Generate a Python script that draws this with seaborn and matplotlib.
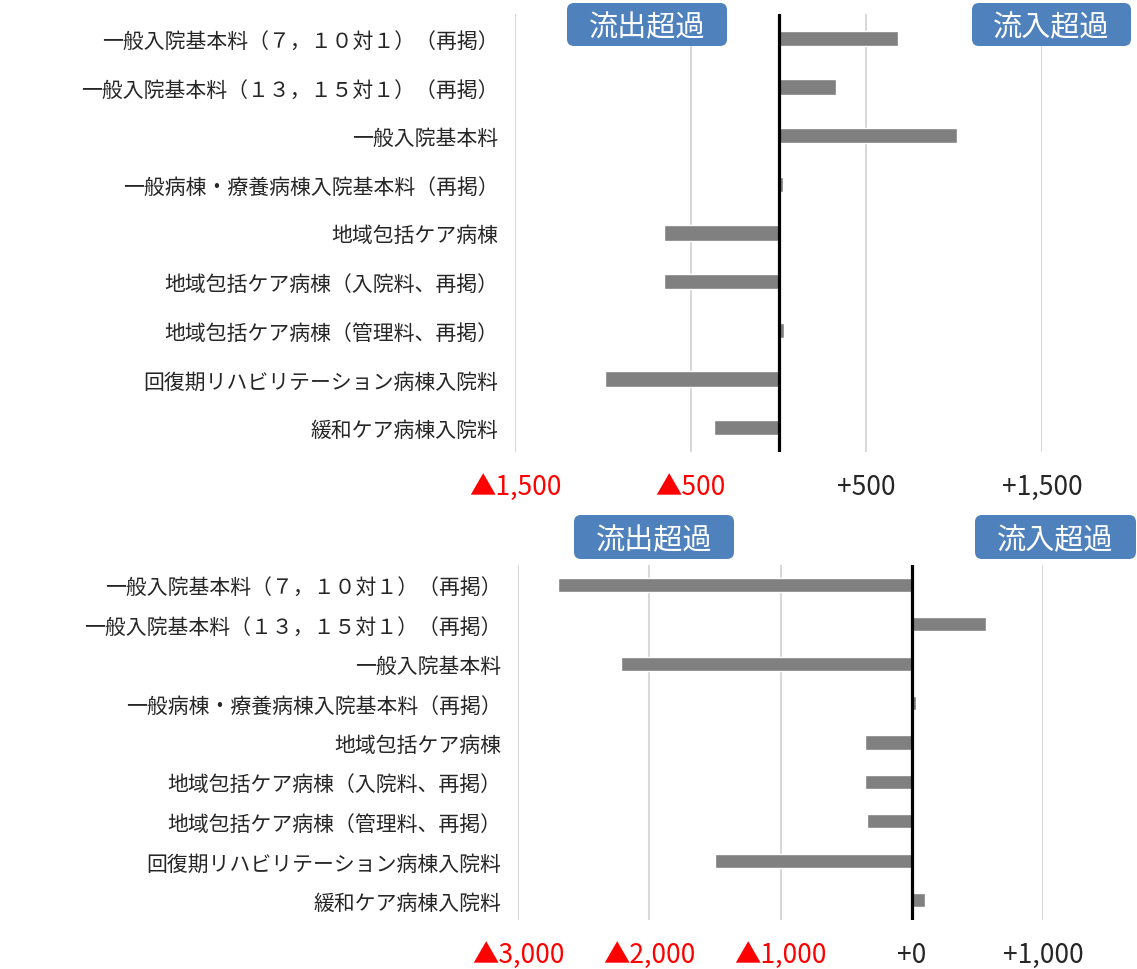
import matplotlib
matplotlib.use('Agg')
import matplotlib.pyplot as plt
from matplotlib.patches import FancyBboxPatch
import seaborn as sns
import pandas as pd

sns.set_style('white')
plt.rcParams['font.family'] = ['Noto Sans CJK JP', 'DejaVu Sans']

categories = ['一般入院基本料（７，１０対１）（再掲）',
              '一般入院基本料（１３，１５対１）（再掲）',
              '一般入院基本料',
              '一般病棟・療養病棟入院基本料（再掲）',
              '地域包括ケア病棟',
              '地域包括ケア病棟（入院料、再掲）',
              '地域包括ケア病棟（管理料、再掲）',
              '回復期リハビリテーション病棟入院料',
              '緩和ケア病棟入院料']

top_values = [682, 330, 1017, 25, -653, -653, 30, -989, -370]
bottom_values = [-2695, 565, -2214, 30, -355, -355, -344, -1496, 99]

top_ticks = [-1500, -500, 500, 1500]
top_ticklabels = ['▲1,500', '▲500', '+500', '+1,500']
bottom_ticks = [-3000, -2000, -1000, 0, 1000]
bottom_ticklabels = ['▲3,000', '▲2,000', '▲1,000', '+0', '+1,000']

W, H = 1137, 970
fig = plt.figure(figsize=(W / 100, H / 100), dpi=100)

def px_axes(x0, y0, x1, y1):
    return fig.add_axes([x0 / W, 1 - y1 / H, (x1 - x0) / W, (y1 - y0) / H])

ax1 = px_axes(515, 15, 1042, 453)
ax2 = px_axes(518, 566, 1043, 921)


def draw(ax, values, ticks, ticklabels, xlim, bar_w, pad):
    df = pd.DataFrame({'cat': categories, 'val': values})
    sns.barplot(data=df, x='val', y='cat', orient='h', color='#808080',
                saturation=1, width=bar_w, ax=ax)
    ax.set_xlim(*xlim)
    ax.set_xticks(ticks)
    ax.set_xticklabels(ticklabels, fontsize=19)
    for t, v in zip(ax.get_xticklabels(), ticks):
        t.set_color('#ff0000' if v < 0 else '#262626')
    ax.tick_params(axis='x', length=0, pad=pad)
    ax.tick_params(axis='y', length=0, pad=12, labelsize=15, labelcolor='#262626')
    ax.set_xlabel('')
    ax.set_ylabel('')
    ax.grid(axis='x', color='#d9d9d9', linewidth=1.5)
    ax.set_axisbelow(True)
    for s in ax.spines.values():
        s.set_visible(False)
    ax.axvline(0, color='black', linewidth=2.3, zorder=5)


draw(ax1, top_values, top_ticks, top_ticklabels, (-1500, 1500), 0.31, 15)
draw(ax2, bottom_values, bottom_ticks, bottom_ticklabels, (-3000, 1000), 0.36, 15)


def label(x0, y0, x1, y1, s):
    # box given in pixels from the top-left corner
    box = FancyBboxPatch((x0 / 100, (H - y1) / 100), (x1 - x0) / 100, (y1 - y0) / 100,
                         boxstyle='round,pad=0,rounding_size=0.07',
                         facecolor='#4f81bd', edgecolor='none',
                         transform=fig.dpi_scale_trans)
    fig.patches.append(box)
    fig.text((x0 + x1) / 2 / W, 1 - ((y0 + y1) / 2 + 3) / H, s, fontsize=21,
             color='white', ha='center', va='center')


label(567, 4, 727, 47, '流出超過')
label(972, 4, 1131, 47, '流入超過')
label(574, 516, 734, 560, '流出超過')
label(975, 516, 1136, 560, '流入超過')

plt.savefig('out.png', dpi=100)
